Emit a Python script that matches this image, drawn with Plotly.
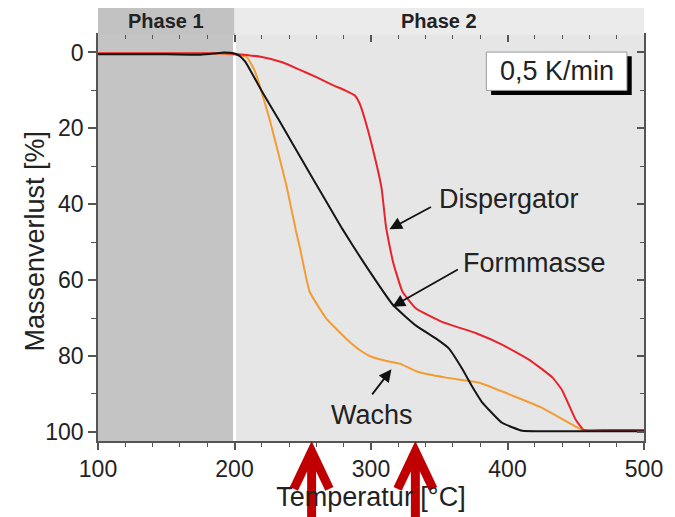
import plotly.graph_objects as go

# ---- data ----
T_disp = [100, 150, 190, 200, 220, 235, 248, 260, 272, 281, 288, 291.6, 295, 301, 307.7, 311, 316, 323, 333, 352, 377, 396, 416, 433, 440, 450, 456, 470, 500]
M_disp = [0.2, 0.2, 0.2, 0.4, 1.2, 2.6, 4.6, 6.5, 8.6, 10.0, 11.3, 13.4, 17, 25, 35.7, 46, 55, 63, 67.5, 71, 74, 77, 81, 85.7, 89, 96.8, 99.5, 99.5, 99.5]

T_form = [100, 150, 175, 185, 192, 197, 201, 204, 208, 214, 221, 232, 243, 257, 270, 279, 294, 316, 333, 348, 357, 367, 374, 381, 396, 411, 430, 500]
M_form = [0.5, 0.5, 0.6, 0.3, 0.0, 0.1, 0.4, 1.0, 2.5, 6.3, 10.8, 17.5, 24.3, 33, 41, 46.5, 55, 66.5, 72, 75.5, 78, 83.5, 88, 92, 97.6, 99.7, 99.8, 99.8]

T_wachs = [100, 150, 190, 200, 209, 215, 221, 226, 231, 238, 245, 248, 255, 267, 282, 292, 299, 310, 321, 333, 355, 379, 404, 425, 445, 455, 470, 500]
M_wachs = [0.3, 0.3, 0.3, 0.6, 1.2, 5, 11.8, 18, 25, 35, 47, 51.6, 63, 70, 75.5, 78.5, 80, 81.2, 82, 84, 85.7, 87, 90.5, 93.6, 97.6, 99.5, 99.5, 99.5]

phase_labels = ["Phase 1", "Phase 2"]
phase_bounds = [100, 200, 500]
x_ticks = [100, 200, 300, 400, 500]
y_ticks = [0, 20, 40, 60, 80, 100]
rate_label = "0,5 K/min"
marker_temps = [256.5, 332.5]

FONT = "Liberation Sans, Arial, sans-serif"
TXT = "#222222"

fig = go.Figure()
fig.add_trace(go.Scatter(x=T_wachs, y=M_wachs, mode="lines", line=dict(color="#f39c33", width=2, shape="spline", smoothing=0.4), showlegend=False))
fig.add_trace(go.Scatter(x=T_disp, y=M_disp, mode="lines", line=dict(color="#e8232b", width=2, shape="spline", smoothing=0.4), showlegend=False))
fig.add_trace(go.Scatter(x=T_form, y=M_form, mode="lines", line=dict(color="#161616", width=2, shape="spline", smoothing=0.4), showlegend=False))
# invisible helper trace for mirrored (top/right) tick axes
fig.add_trace(go.Scatter(x=[100], y=[0], xaxis="x2", yaxis="y2", mode="markers", marker=dict(opacity=0), showlegend=False, hoverinfo="skip"))

shapes = []
shapes.append(dict(type="rect", xref="x", yref="paper", x0=phase_bounds[0], x1=phase_bounds[1], y0=0, y1=1, fillcolor="#c4c4c4", line=dict(width=0), layer="below"))
shapes.append(dict(type="line", xref="x", yref="paper", x0=phase_bounds[1], x1=phase_bounds[1], y0=0, y1=1, line=dict(color="white", width=3), layer="below"))
hdr_top = 1.067
shapes.append(dict(type="rect", xref="x", yref="paper", x0=phase_bounds[0], x1=phase_bounds[1], y0=1, y1=hdr_top, fillcolor="#c2c2c2", line=dict(width=0)))
shapes.append(dict(type="rect", xref="x", yref="paper", x0=phase_bounds[1], x1=phase_bounds[2], y0=1, y1=hdr_top, fillcolor="#ebebeb", line=dict(width=0)))
shapes.append(dict(type="rect", xref="x", yref="y", x0=388, x1=491, y0=1.0, y1=11.2, fillcolor="black", line=dict(width=0)))
shapes.append(dict(type="rect", xref="x", yref="y", x0=384.5, x1=487.5, y0=-0.1, y1=10.0, fillcolor="white", line=dict(color="#999999", width=1)))
for t in marker_temps:
    shapes.append(dict(type="line", xref="x", yref="paper", x0=t, x1=t, y0=-0.2, y1=-0.035, line=dict(color="#c00000", width=9)))
    shapes.append(dict(type="path", xref="x", yref="paper", path=f"M {t-13},-0.118 L {t},-0.026 L {t+13},-0.118", line=dict(color="#c00000", width=9)))

annotations = []
for lab, a, b in zip(phase_labels, phase_bounds[:-1], phase_bounds[1:]):
    annotations.append(dict(x=(a + b) / 2, y=(1 + hdr_top) / 2, xref="x", yref="paper", text=f"<b>{lab}</b>", showarrow=False,
                            xanchor="center", yanchor="middle", font=dict(size=20, color=TXT, family=FONT)))
annotations.append(dict(x=436, y=5.0, xref="x", yref="y", text=rate_label, showarrow=False, xanchor="center", yanchor="middle",
                        font=dict(size=27, color=TXT, family=FONT)))
# y-axis title as rotated text
annotations.append(dict(x=-0.115, y=0.492, xref="paper", yref="paper", text="Massenverlust [%]", textangle=-90, showarrow=False,
                        xanchor="center", yanchor="middle", font=dict(size=27, color=TXT, family=FONT)))

labels = [("Dispergator", 348, 38.6, "left", 313.5, 46.6, 345, 40.5),
          ("Formmasse", 366, 55.6, "left", 315.7, 67.0, 364.7, 57.0),
          ("Wachs", 300.5, 95.5, "center", 315.0, 83.5, 300, 90.5)]
for text, tx, ty, anc, hx, hy, axx, ayy in labels:
    annotations.append(dict(x=tx, y=ty, xref="x", yref="y", text=text, showarrow=False, xanchor=anc, yanchor="middle",
                            font=dict(size=27, color=TXT, family=FONT)))
    annotations.append(dict(x=hx, y=hy, xref="x", yref="y", ax=axx, ay=ayy, axref="x", ayref="y", text="", showarrow=True,
                            arrowhead=2, arrowsize=1.4, arrowwidth=1.8, arrowcolor="#111111"))

fig.update_layout(
    width=667, height=509,
    margin=dict(l=90, r=30, t=27, b=71),
    paper_bgcolor="white", plot_bgcolor="#e6e6e6",
    font=dict(family=FONT, color=TXT),
    shapes=shapes, annotations=annotations,
    xaxis=dict(range=[100, 500], tickvals=x_ticks, ticks="outside", ticklen=7, tickwidth=1.5, tickcolor="#555",
               minor=dict(dtick=20, ticks="outside", ticklen=4, tickwidth=1.2, tickcolor="#555"),
               showline=True, linecolor="#555", linewidth=1.5, mirror=True, showgrid=False, zeroline=False,
               tickfont=dict(size=23, color=TXT), title=dict(text="Temperatur [°C]", font=dict(size=27, color=TXT), standoff=4)),
    yaxis=dict(range=[102.4, -4.6], tickvals=y_ticks, ticks="outside", ticklen=8, tickwidth=1.5, tickcolor="#555",
               minor=dict(dtick=10, ticks="outside", ticklen=5, tickwidth=1.2, tickcolor="#555"),
               showline=True, linecolor="#555", linewidth=1.5, mirror=True, showgrid=False, zeroline=False,
               tickfont=dict(size=23, color=TXT)),
    xaxis2=dict(overlaying="x", side="top", matches="x", range=[100, 500], tickvals=x_ticks, ticks="inside", ticklen=7, tickwidth=1.5, tickcolor="#555",
                minor=dict(dtick=20, ticks="inside", ticklen=4, tickwidth=1.2, tickcolor="#555"),
                showticklabels=False, showgrid=False, zeroline=False, showline=False),
    yaxis2=dict(overlaying="y", side="right", matches="y", range=[102.4, -4.6], tickvals=y_ticks, ticks="inside", ticklen=7, tickwidth=1.5, tickcolor="#555",
                minor=dict(dtick=10, ticks="inside", ticklen=4, tickwidth=1.2, tickcolor="#555"),
                showticklabels=False, showgrid=False, zeroline=False, showline=False),
)

fig.write_html("out.html")
